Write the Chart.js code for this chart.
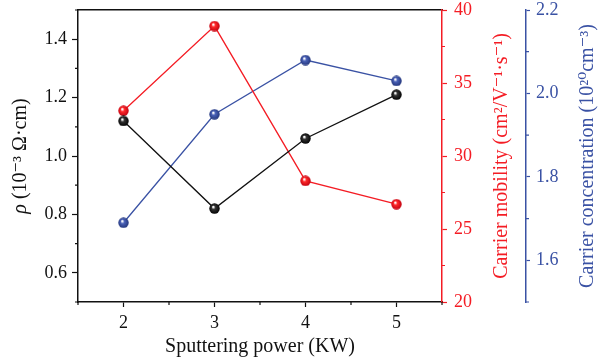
<!DOCTYPE html>
<html>
<head>
<meta charset="utf-8">
<script src="https://cdn.jsdelivr.net/npm/chart.js@4.4.1/dist/chart.umd.min.js"></script>
<style>
html,body{margin:0;padding:0;background:#fff;}
#wrap{width:600px;height:360px;}
</style>
</head>
<body>
<div id="wrap"><canvas id="c" width="600" height="360"></canvas></div>
<script>
// ---- data ----
const power = [2, 3, 4, 5];
const resistivity = [1.12, 0.82, 1.06, 1.21];
const mobility = [33.1, 38.9, 28.3, 26.7];
const concentration = [1.69, 1.95, 2.08, 2.03];
// ---- tick labels ----
const xTicks = [2, 3, 4, 5];
const xMinor = [1.5, 2.5, 3.5, 4.5, 5.5];
const rhoTicks = [0.6, 0.8, 1.0, 1.2, 1.4];
const rhoMinor = [0.5, 0.7, 0.9, 1.1, 1.3, 1.5];
const muTicks = [20, 25, 30, 35, 40];
const muMinor = [22.5, 27.5, 32.5, 37.5];
const nTicks = [1.6, 1.8, 2.0, 2.2];
const nMinor = [1.5, 1.7, 1.9, 2.1];
const rhoSymbol = 'ρ';
const rhoUnit = ' (10⁻³ Ω·cm)';
const muTitle = 'Carrier mobility (cm²/V⁻¹·s⁻¹)';
const nTitle = 'Carrier concentration (10²⁰cm⁻³)';

const BLACK = '#111111', RED = '#f41c24', BLUE = '#3a52a4';
const FONT = "'Liberation Serif', 'DejaVu Serif', serif";

function sphere(color, dark) {
  const s = 11, cv = document.createElement('canvas');
  cv.width = s; cv.height = s;
  const g = cv.getContext('2d');
  const gr = g.createRadialGradient(s*0.38, s*0.35, 0.5, s/2, s/2, s/2);
  gr.addColorStop(0, '#ffffff');
  gr.addColorStop(0.3, color);
  gr.addColorStop(1, dark);
  g.fillStyle = gr;
  g.beginPath(); g.arc(s/2, s/2, s/2 - 0.3, 0, Math.PI*2); g.fill();
  return cv;
}

function xy(vals) { return power.map((p, i) => ({x: p, y: vals[i]})); }
function fixTicks(arr) { return scale => { scale.ticks = arr.map(v => ({value: v})); }; }
function fitV(w) { return s => { s.width = w; s.paddingTop = 0; s.paddingBottom = 0; }; }
function fitH(h) { return s => { s.height = h; s.paddingLeft = 0; s.paddingRight = 0; }; }

const minorPlugin = {
  id: 'minor',
  afterDraw(chart) {
    const ctx = chart.ctx, s = chart.scales, ca = chart.chartArea;
    ctx.save();
    ctx.lineWidth = 1.2;
    ctx.strokeStyle = BLACK;
    ctx.beginPath();
    xMinor.forEach(v => { const px = s.x.getPixelForValue(v); ctx.moveTo(px, s.x.top); ctx.lineTo(px, s.x.top + 3); });
    rhoMinor.forEach(v => { const py = s.y.getPixelForValue(v); ctx.moveTo(s.y.right, py); ctx.lineTo(s.y.right - 3, py); });
    ctx.stroke();
    ctx.strokeStyle = RED;
    ctx.beginPath();
    muMinor.forEach(v => { const py = s.y1.getPixelForValue(v); ctx.moveTo(s.y1.left, py); ctx.lineTo(s.y1.left + 3, py); });
    ctx.stroke();
    ctx.strokeStyle = BLUE;
    ctx.beginPath();
    nMinor.forEach(v => { const py = s.y2.getPixelForValue(v); ctx.moveTo(s.y2.left, py); ctx.lineTo(s.y2.left + 3, py); });
    ctx.stroke();

    // vertical axis titles, reading bottom-to-top
    const cy = (ca.top + ca.bottom) / 2;
    ctx.textBaseline = 'middle';
    // left title: italic rho + upright unit
    ctx.save();
    ctx.translate(s.y.left + 21, cy);
    ctx.rotate(-Math.PI / 2);
    ctx.fillStyle = BLACK;
    ctx.font = 'italic 20px ' + FONT;
    const w1 = ctx.measureText(rhoSymbol).width;
    ctx.font = '20px ' + FONT;
    const w2 = ctx.measureText(rhoUnit).width;
    ctx.textAlign = 'left';
    ctx.font = 'italic 20px ' + FONT;
    ctx.fillText(rhoSymbol, -(w1 + w2) / 2, 0);
    ctx.font = '20px ' + FONT;
    ctx.fillText(rhoUnit, -(w1 + w2) / 2 + w1, 0);
    ctx.restore();

    ctx.font = '20px ' + FONT;
    ctx.textAlign = 'center';
    [[muTitle, RED, s.y1.right - 24], [nTitle, BLUE, s.y2.right - 12]].forEach(([t, c, x]) => {
      ctx.save();
      ctx.translate(x, cy);
      ctx.rotate(-Math.PI / 2);
      ctx.fillStyle = c;
      ctx.fillText(t, 0, 0);
      ctx.restore();
    });
    ctx.restore();
  }
};

new Chart(document.getElementById('c'), {
  type: 'line',
  data: {
    datasets: [
      {data: xy(resistivity), yAxisID: 'y', borderColor: BLACK, borderWidth: 1.3,
       pointStyle: sphere('#333333', '#000000'), pointRadius: 5},
      {data: xy(mobility), yAxisID: 'y1', borderColor: RED, borderWidth: 1.3,
       pointStyle: sphere('#ff2a2a', '#c00010'), pointRadius: 5},
      {data: xy(concentration), yAxisID: 'y2', borderColor: BLUE, borderWidth: 1.3,
       pointStyle: sphere('#4a62b8', '#23357a'), pointRadius: 5}
    ]
  },
  options: {
    responsive: false,
    animation: false,
    layout: {padding: 0},
    plugins: {legend: {display: false}, tooltip: {enabled: false}},
    elements: {line: {tension: 0}},
    scales: {
      x: {
        type: 'linear', position: 'bottom', min: 1.5, max: 5.5,
        afterBuildTicks: fixTicks(xTicks),
        afterFit: fitH(58),
        border: {color: BLACK, width: 1.5},
        grid: {drawOnChartArea: false, drawTicks: true, tickLength: 5, tickColor: BLACK, tickWidth: 1.2},
        ticks: {color: BLACK, padding: 5, maxRotation: 0, font: {family: FONT, size: 18}, callback: v => String(v)},
        title: {display: true, text: 'Sputtering power (KW)', color: BLACK, padding: {top: 0, bottom: 1},
                font: {family: FONT, size: 20}}
      },
      xt: {
        type: 'linear', position: 'top', min: 1.5, max: 5.5,
        afterBuildTicks: fixTicks([]),
        afterFit: fitH(10),
        border: {color: BLACK, width: 1.5},
        grid: {display: false, drawTicks: false},
        ticks: {display: false}
      },
      y: {
        type: 'linear', position: 'left', min: 0.5, max: 1.5,
        afterBuildTicks: fixTicks(rhoTicks),
        afterFit: fitV(78),
        border: {color: BLACK, width: 1.5},
        grid: {drawOnChartArea: false, tickLength: 6, tickColor: BLACK, tickWidth: 1.2},
        ticks: {color: BLACK, padding: 5, font: {family: FONT, size: 18}, callback: v => v.toFixed(1)}
      },
      y1: {
        type: 'linear', position: 'right', min: 20, max: 40,
        afterBuildTicks: fixTicks(muTicks),
        afterFit: fitV(84),
        border: {color: RED, width: 1.5},
        grid: {drawOnChartArea: false, tickLength: 5, tickColor: RED, tickWidth: 1.2},
        ticks: {color: RED, padding: 7, font: {family: FONT, size: 18}, callback: v => String(v)}
      },
      y2: {
        type: 'linear', position: 'right', min: 1.5, max: 2.2,
        afterBuildTicks: fixTicks(nTicks),
        afterFit: fitV(74),
        border: {color: BLUE, width: 1.5},
        grid: {drawOnChartArea: false, tickLength: 4, tickColor: BLUE, tickWidth: 1.2},
        ticks: {color: BLUE, padding: 6, font: {family: FONT, size: 18}, callback: v => v.toFixed(1)}
      }
    }
  },
  plugins: [minorPlugin]
});
</script>
</body>
</html>
